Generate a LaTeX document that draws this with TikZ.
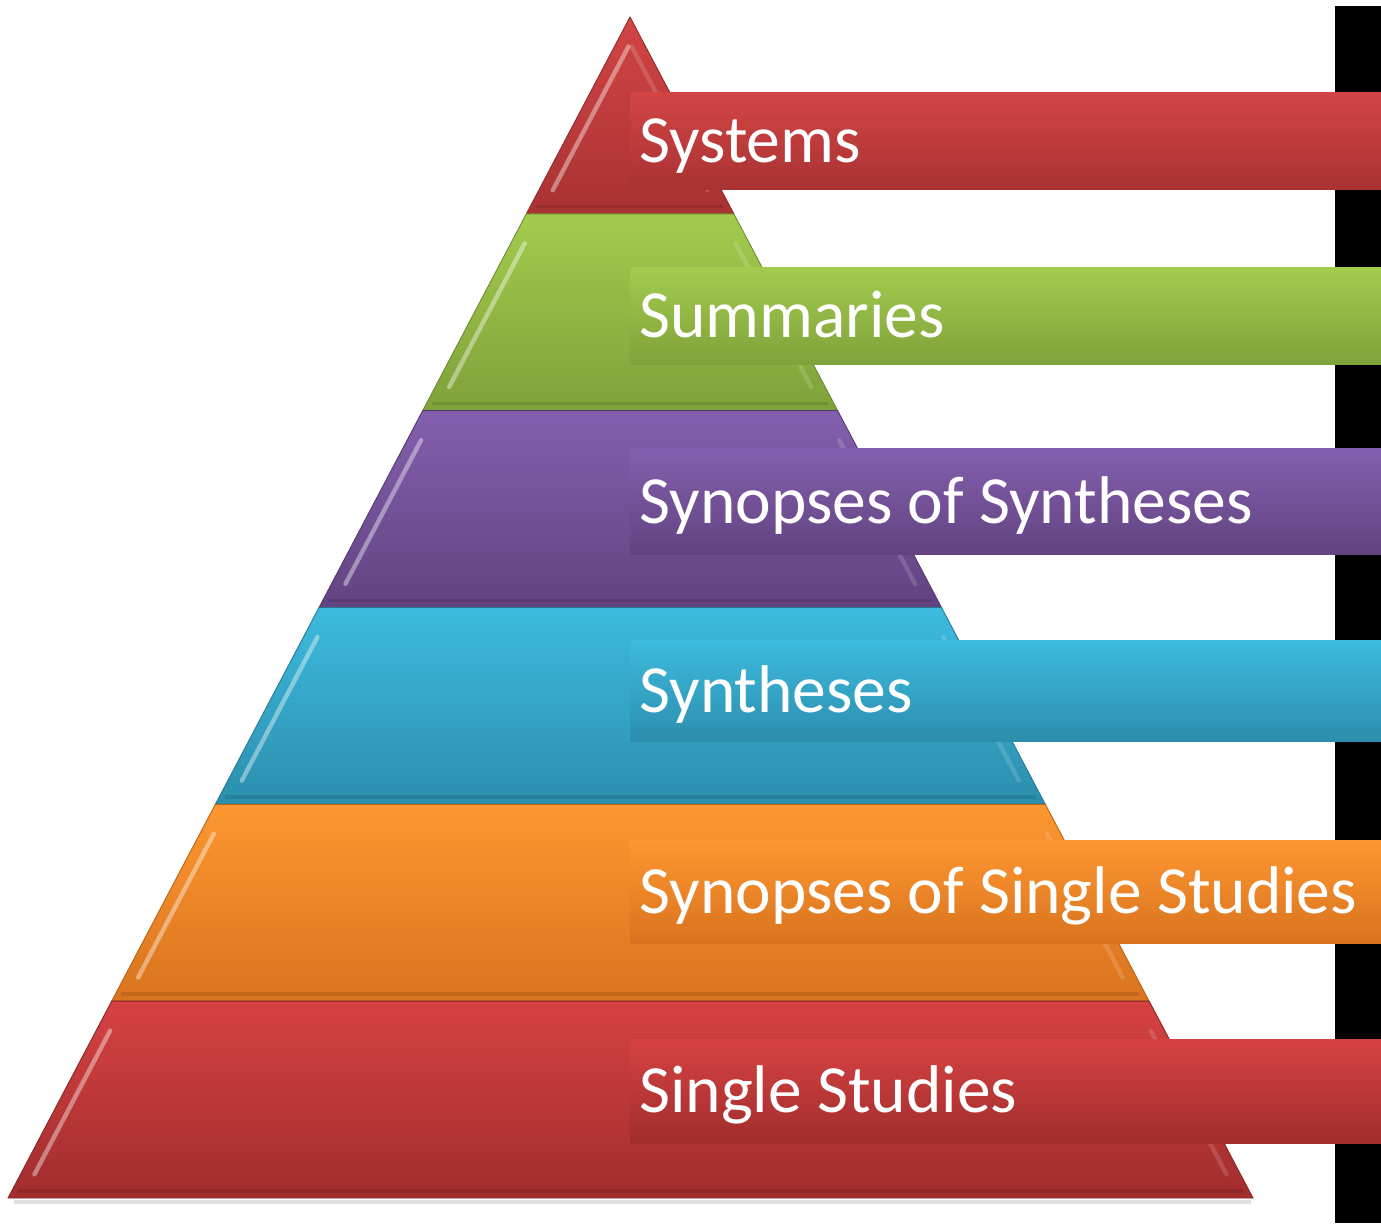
\documentclass[tikz,border=0pt]{standalone}
\usepackage{fontspec}
\setmainfont{Carlito}
\usetikzlibrary{calc}

\definecolor{sysT}{HTML}{D24545}
\definecolor{sysB}{HTML}{A93232}
\definecolor{sumT}{HTML}{A3CC4E}
\definecolor{sumB}{HTML}{7FA13A}
\definecolor{sosT}{HTML}{845FAE}
\definecolor{sosB}{HTML}{624380}
\definecolor{synT}{HTML}{3DBBDE}
\definecolor{synB}{HTML}{2C8EAD}
\definecolor{sssT}{HTML}{FD9730}
\definecolor{sssB}{HTML}{D9731F}
\definecolor{sinT}{HTML}{D64242}
\definecolor{sinB}{HTML}{A12D2D}

\begin{document}
\begin{tikzpicture}[
	x=0.02cm, y=-0.02cm,
	bar/.style={anchor=west, inner xsep=0.18cm, inner ysep=0pt, minimum height=#1, text width=14.66cm, text height=0.87cm, text depth=0pt, align=flush left, text=white, font=\fontsize{38.4}{44}\selectfont}
	]
	\useasboundingbox (0,0) rectangle (1381,1223);
	\fill[black] (1335,6) rectangle (1381,1223);
	\coordinate (apex) at (630,17);
	\coordinate (baseL) at (8,1198);
	\coordinate (baseR) at (1253,1198);
	\draw[black!25, opacity=0.5, line width=2pt] ($(baseL)+(6,4)$) -- ($(baseR)+(-2,4)$);
	\foreach \i/\ct/\cb in {0/sysT/sysB,1/sumT/sumB,2/sosT/sosB,3/synT/synB,4/sssT/sssB,5/sinT/sinB}{
		\pgfmathsetmacro\s{\i/6}
		\pgfmathsetmacro\e{(\i+1)/6}
		\shadedraw[top color=\ct, bottom color=\cb, draw=\cb!85!black, line width=0.5pt]
			($(apex)!\s!(baseL)$) -- ($(apex)!\s!(baseR)$) -- ($(apex)!\e!(baseR)$) -- ($(apex)!\e!(baseL)$) -- cycle;
		\draw[white, opacity=0.4, line width=2.5pt, line cap=round]
			($(apex)!\s+0.025!(baseL)+(14,0)$) -- ($(apex)!\e-0.02!(baseL)+(14,0)$);
		\draw[white, opacity=0.15, line width=2.5pt, line cap=round]
			($(apex)!\s+0.025!(baseR)+(-14,0)$) -- ($(apex)!\e-0.02!(baseR)+(-14,0)$);
		\draw[\cb!80!black, opacity=0.5, line width=2pt]
			($(apex)!\e-0.006!(baseL)+(6,0)$) -- ($(apex)!\e-0.006!(baseR)+(-6,0)$);
	}
	\node[bar=1.96cm, top color=sysT, bottom color=sysB] (systems) at (630,141) {Systems};
	\node[bar=1.96cm, top color=sumT, bottom color=sumB] (summaries) at (630,316) {Summaries};
	\node[bar=2.14cm, top color=sosT, bottom color=sosB] (synsyn) at (630,501.5) {Synopses of Syntheses};
	\node[bar=2.02cm, top color=synT, bottom color=synB] (syntheses) at (630,690.5) {Syntheses};
	\node[bar=2.06cm, top color=sssT, bottom color=sssB] (synsingle) at (630,891.5) {Synopses of Single Studies};
	\node[bar=2.08cm, top color=sinT, bottom color=sinB] (single) at (630,1091) {Single Studies};
\end{tikzpicture}
\end{document}
